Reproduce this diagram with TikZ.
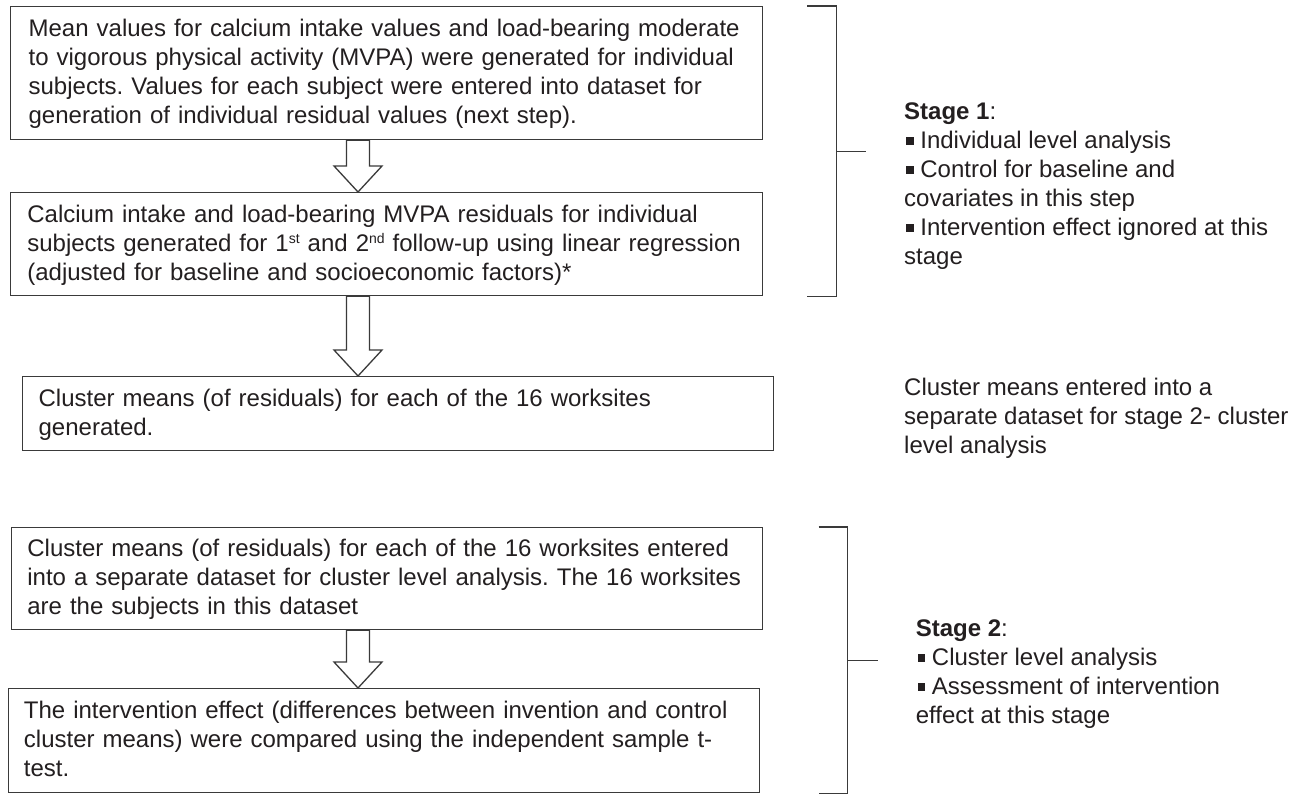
\documentclass[tikz,border=0pt]{standalone}
\usepackage{fontspec}
\setmainfont{Liberation Sans}
\usetikzlibrary{calc}
\definecolor{ink}{HTML}{231F20}
\definecolor{linec}{HTML}{3A3A3A}
\newcommand\tstrut{\rule{0pt}{21pt}}
\newcommand\bstrut{\rule[-7pt]{0pt}{7pt}}
\newcommand\sqb{\hspace{2pt}\rule[3.5pt]{7.5pt}{7.5pt}}
\newcommand\sups[1]{\raisebox{8pt}{\fontsize{14}{14}\selectfont #1}}
\newcommand\blockarrow[2]{%
  \draw[blk] let \p1=(#1.south -| ax), \p2=(#2.north -| ax) in
    (\x1-11.5pt,\y1) -- (\x1-11.5pt,\y2+26pt) -- (\x1-24pt,\y2+26pt) -- (\x1,\y2)
    -- (\x1+24pt,\y2+26pt) -- (\x1+11.5pt,\y2+26pt) -- (\x1+11.5pt,\y1) -- cycle;}
\frenchspacing
\begin{document}
\begin{tikzpicture}[x=1pt,y=-1pt,
  txt/.style={font=\fontsize{24}{29}\selectfont\frenchspacing, text=ink},
  flowbox/.style={txt, draw=linec, line width=1.3pt, anchor=north west, align=left, inner ysep=0pt},
  blk/.style={draw=linec, line width=1.3pt, fill=white, line join=miter},
  brk/.style={draw=linec, line width=1.3pt},
  side/.style={txt, anchor=north west, align=left, inner sep=0pt}]

\useasboundingbox (0,0) rectangle (1300,800);
\fill[white] (0,0) rectangle (1300,800);

\node[flowbox, inner xsep=18pt, text width=716pt, minimum height=133pt] (b1) at (10,6)
 {\tstrut\mbox{Mean values for calcium intake values and load-bearing moderate}\\
  \mbox{to vigorous physical activity (MVPA) were generated for individual}\\
  \mbox{subjects. Values for each subject were entered into dataset for}\\
  \mbox{generation of individual residual values (next step).}\bstrut};

\node[flowbox, inner xsep=16.7pt, text width=718.6pt, minimum height=103pt] (b2) at (10,192)
 {\tstrut\mbox{Calcium intake and load-bearing MVPA residuals for individual}\\
  \mbox{subjects generated for 1\sups{st} and 2\sups{nd} follow-up using linear regression}\\
  \mbox{(adjusted for baseline and socioeconomic factors)*}\bstrut};

\node[flowbox, inner xsep=16pt, text width=719pt, minimum height=74pt] (b3) at (22,376)
 {\tstrut\mbox{Cluster means (of residuals) for each of the 16 worksites}\\
  \mbox{generated.}\bstrut};

\node[flowbox, inner xsep=16pt, text width=719.3pt, minimum height=102pt] (b4) at (10.7,527)
 {\tstrut\mbox{Cluster means (of residuals) for each of the 16 worksites entered}\\
  \mbox{into a separate dataset for cluster level analysis. The 16 worksites}\\
  \mbox{are the subjects in this dataset}\bstrut};

\node[flowbox, inner xsep=15.5pt, text width=720.2pt, minimum height=104pt] (b5) at (7.8,688)
 {\tstrut\mbox{The intervention effect (differences between invention and control}\\
  \mbox{cluster means) were compared using the independent sample t-}\\
  \mbox{test.}\bstrut};

\coordinate (ax) at (358,0);
\blockarrow{b1}{b2}
\blockarrow{b2}{b3}
\blockarrow{b4}{b5}

% brackets
\coordinate (bl1) at (807,0);
\coordinate (bx1) at (836.7,0);
\coordinate (bl2) at (818.5,0);
\coordinate (bx2) at (847.8,0);
\draw[brk] (b1.north -| bl1) -- (b1.north -| bx1) -- (b2.south -| bx1) -- (b2.south -| bl1);
\coordinate (m1) at ($(b1.north -| bx1)!0.5!(b2.south -| bx1)$);
\coordinate (t1) at ($(m1)+(29.3,0)$);
\draw[brk] (m1) -- (t1);
\draw[brk] (b4.north -| bl2) -- (b4.north -| bx2) -- (b5.south -| bx2) -- (b5.south -| bl2);
\coordinate (m2) at ($(b4.north -| bx2)!0.5!(b5.south -| bx2)$);
\coordinate (t2) at ($(m2)+(30,0)$);
\draw[brk] (m2) -- (t2);

% side texts
\node[side] (s1) at (904,98)
 {\tstrut\textbf{Stage 1}:\\
  \sqb\ Individual level analysis\\
  \sqb\ Control for baseline and\\
  covariates in this step\\
  \sqb\ Intervention effect ignored at this\\
  stage};

\node[side] (cm) at (904,374)
 {\tstrut Cluster means entered into a\\
  separate dataset for stage 2- cluster\\
  level analysis};

\node[side] (s2) at (915.6,615)
 {\tstrut\textbf{Stage 2}:\\
  \sqb\ Cluster level analysis\\
  \sqb\ Assessment of intervention\\
  effect at this stage};
\end{tikzpicture}
\end{document}
